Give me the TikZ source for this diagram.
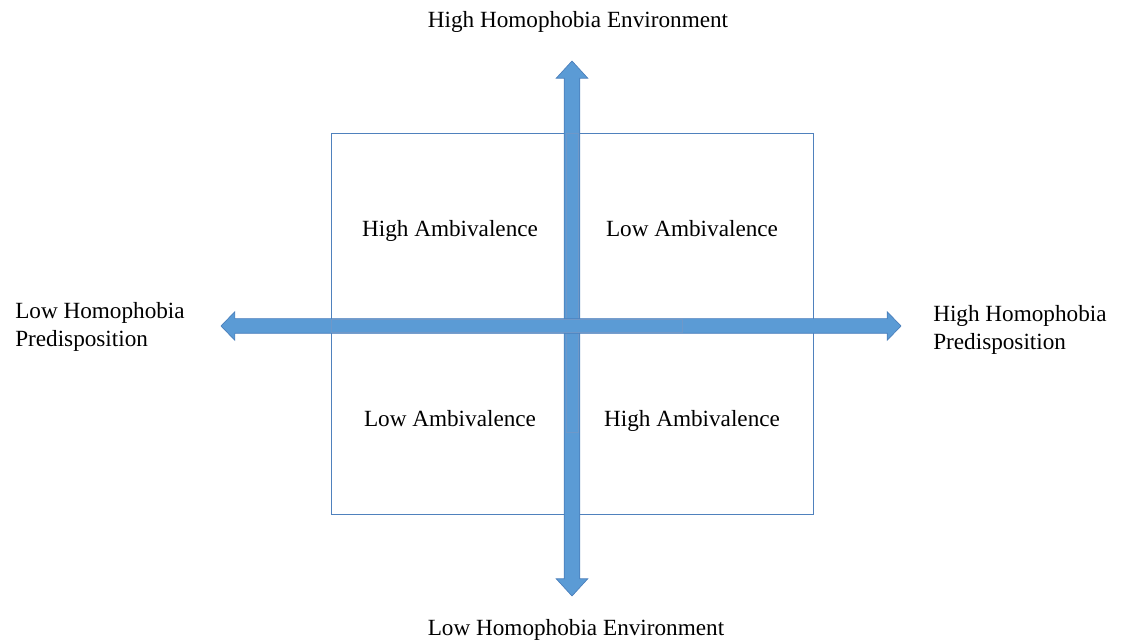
\documentclass[tikz,border=0pt]{standalone}
\usepackage{fontspec}
\setmainfont{Liberation Serif}
\usetikzlibrary{shapes}
\usetikzlibrary{shapes.arrows}
\usetikzlibrary{positioning}
\definecolor{arrowfill}{HTML}{5B9BD5}
\definecolor{arrowline}{HTML}{4A7EBB}
\definecolor{boxline}{HTML}{4F81BD}
\tikzset{
    quadbox/.style = {draw=boxline, line width=0.6pt},
    bigarrow/.style = {double arrow, fill=arrowfill, draw=arrowline, line width=0.5pt, inner xsep=0pt},
    innerbar/.style = {fill=arrowfill, draw=arrowline!80, line width=0.4pt},
    mylabel/.style = {font=\fontsize{17.4}{21}\selectfont, inner sep=0pt},
    mylabell/.style = {mylabel, align=left, anchor=west},
    quadlabel/.style = {mylabel, text height=12pt, text depth=4pt}
}
\begin{document}
\begin{tikzpicture}[x=0.75pt,y=-0.75pt]
\useasboundingbox (0,0) rectangle (1121,641);

\draw[quadbox] (331,133) rectangle (813,514);

\node[bigarrow, rotate=90, minimum height=401.25pt, inner ysep=5.6pt,
      double arrow head extend=6pt, double arrow tip angle=85] at (572,328.5) (vaxis) {};
\draw[innerbar] (566,133) rectangle (578,432);
\node[bigarrow, minimum height=510pt, inner ysep=5.25pt,
      double arrow head extend=5.25pt, double arrow tip angle=92] at (561,326) (haxis) {};
\draw[innerbar] (331,319.5) rectangle (682,332.5);

\node[mylabel] at (578,22) (hienv) {High Homophobia Environment};
\node[mylabel] at (576,630) (loenv) {Low Homophobia Environment};
\node[mylabell] at (15,327) (lopred) {Low Homophobia\\Predisposition};
\node[mylabell] at (933,330) (hipred) {High Homophobia\\Predisposition};

\node[quadlabel] at (450,231.5) (1) {High Ambivalence};
\node[quadlabel] at (692,231.5) (2) {Low Ambivalence};
\node[quadlabel] at (450,421.5) (3) {Low Ambivalence};
\node[quadlabel] at (692,421.5) (4) {High Ambivalence};

\end{tikzpicture}
\end{document}
